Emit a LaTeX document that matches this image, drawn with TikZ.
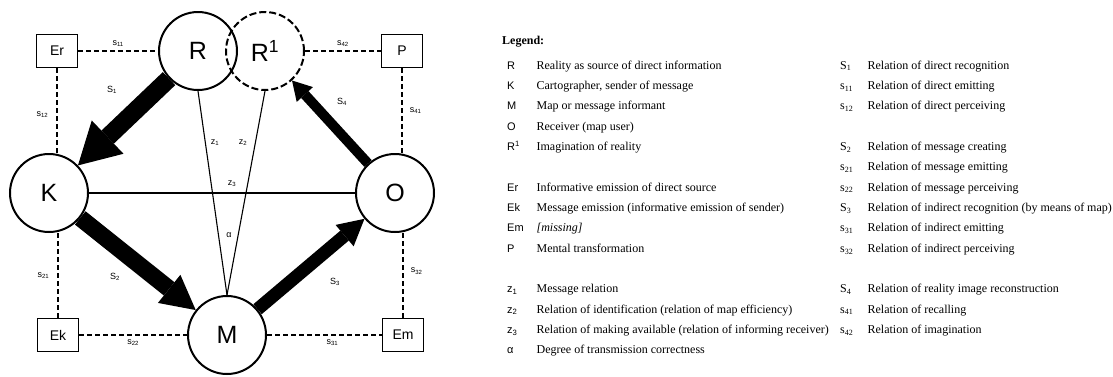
\documentclass[tikz,border=0pt]{standalone}
\usepackage{fontspec}
\setmainfont{Liberation Serif}
\setsansfont{Liberation Sans}
\usetikzlibrary{arrows.meta,positioning}

\begin{document}
\begin{tikzpicture}[
  x=1pt, y=-1pt,
  node distance=0pt and 7pt,
  bigc/.style={circle, draw, line width=2pt, minimum size=78pt, inner sep=0pt,
               font=\sffamily\fontsize{25}{30}\selectfont},
  sbox/.style={draw, line width=1.5pt, minimum width=41pt, minimum height=33pt,
               inner sep=0pt, font=\sffamily\fontsize{14}{16}\selectfont},
  dline/.style={line width=1.5pt, dash pattern=on 5pt off 3pt},
  zline/.style={line width=1.1pt},
  flow/.style n args={3}{line width=#1,
               -{Triangle[length=#2, width=#3, line width=0pt]}},
  lab/.style={inner sep=1pt, font=\sffamily\fontsize{9}{10}\selectfont},
  keyl/.style={anchor=west, inner sep=0pt, text width=22pt, align=left,
               minimum height=20pt, text height=8pt, text depth=2pt,
               font=\sffamily\fontsize{11}{13}\selectfont},
  keyr/.style={keyl, text width=20pt, font=\fontsize{12}{14}\selectfont},
  desc/.style={inner sep=0pt, text height=8pt, text depth=2pt,
               font=\fontsize{12}{14}\selectfont}
]
\useasboundingbox (0,0) rectangle (1113,376);

% main circles
\node[bigc] (R) at (198,51) {R};
\node[bigc, dash pattern=on 7pt off 3pt] (R1) at (265,51) {R\textsuperscript{1}};
\node[bigc] (K) at (49,193) {K};
\node[bigc] (O) at (395,193) {O};
\node[bigc] (M) at (227,335) {M};

% emission boxes
\node[sbox] (Er) at (57,51)  {Er};
\node[sbox] (P)  at (402,51) {P};
\node[sbox] (Ek) at (58,335) {Ek};
\node[sbox] (Em) at (403,335) {Em};

% dashed relations
\draw[dline] (Er) -- node[lab, above=3pt] (l11) {s\textsubscript{11}} (R);
\draw[dline] (Er) -- node[lab, pos=.55, left=7pt] (l12) {s\textsubscript{12}} (Er |- K.north);
\draw[dline] (Ek) -- node[lab, left=7pt] (l21) {s\textsubscript{21}} (Ek |- K.south);
\draw[dline] (Ek) -- node[lab, below=3pt] (l22) {s\textsubscript{22}} (M);
\draw[dline] (M)  -- node[lab, pos=.57, below=3pt] (l31) {s\textsubscript{31}} (Em);
\draw[dline] (Em) -- node[lab, pos=.55, right=6pt] (l32) {s\textsubscript{32}} (Em |- O.south);
\draw[dline] (P)  -- node[lab, right=6pt] (l41) {s\textsubscript{41}} (P |- O.north);
\draw[dline] (R1) -- node[lab, above=3pt] (l42) {s\textsubscript{42}} (P);

% thin relations
\draw[zline] (R.south) -- (M.north);
\draw[zline] (R1.south) -- (M.north);
\draw[zline] (K) -- (O);
\node[lab] (lz1) at (215,143) {z\textsubscript{1}};
\node[lab] (lz2) at (243,143) {z\textsubscript{2}};
\node[lab] (lz3) at (232,184) {z\textsubscript{3}};
\node[lab] (la)  at (229,235) {α};

% main flows
\draw[flow={18pt}{41pt}{46pt}] (R) -- (K);
\draw[flow={17pt}{34pt}{36pt}] (K) -- (M);
\draw[flow={13pt}{26pt}{28pt}] (M) -- (O);
\draw[flow={10pt}{19pt}{22pt}] (O) -- (R1);
\node[lab] (lS1) at (112,90)  {S\textsubscript{1}};
\node[lab] (lS2) at (115,277) {S\textsubscript{2}};
\node[lab] (lS3) at (335,282) {S\textsubscript{3}};
\node[lab] (lS4) at (342,102) {S\textsubscript{4}};

% legend
\node[anchor=west, inner sep=0pt, font=\bfseries\fontsize{12}{14}\selectfont]
      (leg) at (502,42) {Legend:};

\node[keyl] (kR) at (507,66) {R};
\node[keyl, below=of kR]  (kK)  {K};
\node[keyl, below=of kK]  (kM)  {M};
\node[keyl, below=of kM]  (kO)  {O};
\node[keyl, below=of kO]  (kR1) {R\textsuperscript{1}};
\node[keyl, below=20pt of kR1] (kEr) {Er};
\node[keyl, below=of kEr] (kEk) {Ek};
\node[keyl, below=of kEk] (kEm) {Em};
\node[keyl, below=of kEm] (kP)  {P};
\node[keyl, below=20pt of kP] (kz1) {z\textsubscript{1}};
\node[keyl, below=of kz1] (kz2) {z\textsubscript{2}};
\node[keyl, below=of kz2] (kz3) {z\textsubscript{3}};
\node[keyl, below=of kz3] (ka)  {α};

\node[desc, right=of kR]  (dR)  {Reality as source of direct information};
\node[desc, right=of kK]  (dK)  {Cartographer, sender of message};
\node[desc, right=of kM]  (dM)  {Map or message informant};
\node[desc, right=of kO]  (dO)  {Receiver (map user)};
\node[desc, right=of kR1] (dR1) {Imagination of reality};
\node[desc, right=of kEr] (dEr) {Informative emission of direct source};
\node[desc, right=of kEk] (dEk) {Message emission (informative emission of sender)};
\node[desc, right=of kEm] (dEm) {\textit{[missing]}};
\node[desc, right=of kP]  (dP)  {Mental transformation};
\node[desc, right=of kz1] (dz1) {Message relation};
\node[desc, right=of kz2] (dz2) {Relation of identification (relation of map efficiency)};
\node[desc, right=of kz3] (dz3) {Relation of making available (relation of informing receiver)};
\node[desc, right=of ka]  (da)  {Degree of transmission correctness};

\node[keyr] (kS1) at (840,66) {S\textsubscript{1}};
\node[keyr, below=of kS1] (ks11) {s\textsubscript{11}};
\node[keyr, below=of ks11] (ks12) {s\textsubscript{12}};
\node[keyr, below=20pt of ks12] (kS2) {S\textsubscript{2}};
\node[keyr, below=of kS2]  (ks21) {s\textsubscript{21}};
\node[keyr, below=of ks21] (ks22) {s\textsubscript{22}};
\node[keyr, below=of ks22] (kS3)  {S\textsubscript{3}};
\node[keyr, below=of kS3]  (ks31) {s\textsubscript{31}};
\node[keyr, below=of ks31] (ks32) {s\textsubscript{32}};
\node[keyr, below=20pt of ks32] (kS4) {S\textsubscript{4}};
\node[keyr, below=of kS4]  (ks41) {s\textsubscript{41}};
\node[keyr, below=of ks41] (ks42) {s\textsubscript{42}};

\node[desc, right=of kS1]  (dS1)  {Relation of direct recognition};
\node[desc, right=of ks11] (ds11) {Relation of direct emitting};
\node[desc, right=of ks12] (ds12) {Relation of direct perceiving};
\node[desc, right=of kS2]  (dS2)  {Relation of message creating};
\node[desc, right=of ks21] (ds21) {Relation of message emitting};
\node[desc, right=of ks22] (ds22) {Relation of message perceiving};
\node[desc, right=of kS3]  (dS3)  {Relation of indirect recognition (by means of map)};
\node[desc, right=of ks31] (ds31) {Relation of indirect emitting};
\node[desc, right=of ks32] (ds32) {Relation of indirect perceiving};
\node[desc, right=of kS4]  (dS4)  {Relation of reality image reconstruction};
\node[desc, right=of ks41] (ds41) {Relation of recalling};
\node[desc, right=of ks42] (ds42) {Relation of imagination};
\end{tikzpicture}
\end{document}
